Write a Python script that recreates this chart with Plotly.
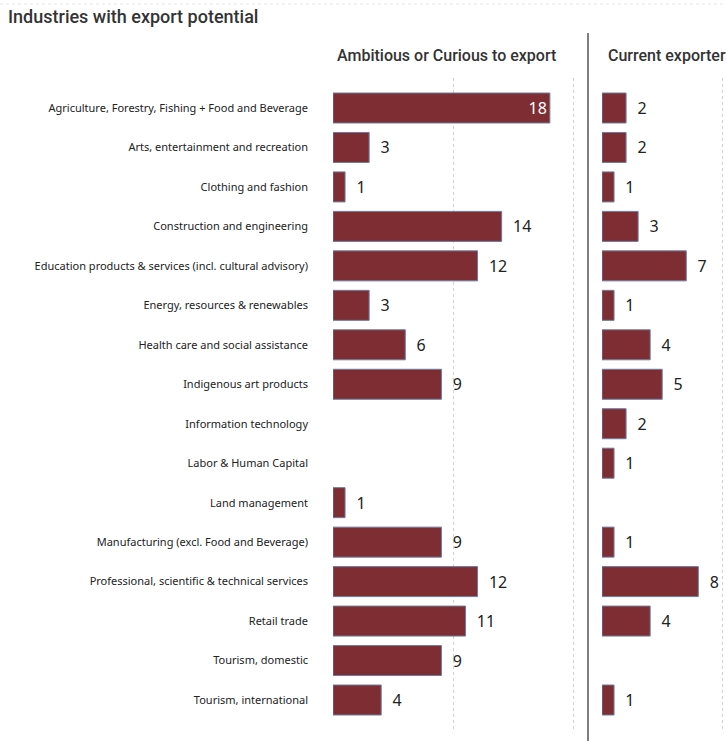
import plotly.graph_objects as go

industries = [
    "Agriculture, Forestry, Fishing + Food and Beverage",
    "Arts, entertainment and recreation",
    "Clothing and fashion",
    "Construction and engineering",
    "Education products & services (incl. cultural advisory)",
    "Energy, resources & renewables",
    "Health care and social assistance",
    "Indigenous art products",
    "Information technology",
    "Labor & Human Capital",
    "Land management",
    "Manufacturing (excl. Food and Beverage)",
    "Professional, scientific & technical services",
    "Retail trade",
    "Tourism, domestic",
    "Tourism, international",
]
ambitious = [18, 3, 1, 14, 12, 3, 6, 9, None, None, 1, 9, 12, 11, 9, 4]
current = [2, 2, 1, 3, 7, 1, 4, 5, 2, 1, None, 1, 8, 4, None, 1]

BAR = "#7E2D33"
EDGE = "#6E7C9C"
W, H = 726, 741
TOP, BOTTOM = 78, 11
PLOT_H = H - TOP - BOTTOM
INSIDE_FROM = 16  # values this large get their label inside the bar
PAD = "\u00a0\u00a0"  # breathing room between bar end and outside label


def positions(vals):
    return ["inside" if (v is not None and v >= INSIDE_FROM) else "outside" for v in vals]


def labels(vals):
    out = []
    for v in vals:
        if v is None:
            out.append("")
        elif v >= INSIDE_FROM:
            out.append(str(v))
        else:
            out.append(PAD + str(v))
    return out


def paper_y(px_from_top):
    return 1 + (TOP - px_from_top) / PLOT_H


fig = go.Figure()
fig.add_trace(go.Bar(
    y=industries, x=ambitious, orientation="h", xaxis="x", yaxis="y",
    marker=dict(color=BAR, line=dict(color=EDGE, width=1)),
    width=0.76,
    text=labels(ambitious), textposition=positions(ambitious),
    insidetextanchor="end",
    textfont=dict(family="Noto Sans", size=16, color="#222222"),
    insidetextfont=dict(family="Noto Sans", size=16, color="white"),
    outsidetextfont=dict(family="Noto Sans", size=16, color="#222222"),
    cliponaxis=False, hoverinfo="x+y", showlegend=False,
))
fig.add_trace(go.Bar(
    y=industries, x=current, orientation="h", xaxis="x2", yaxis="y2",
    marker=dict(color=BAR, line=dict(color=EDGE, width=1)),
    width=0.76,
    text=labels(current), textposition=positions(current),
    textfont=dict(family="Noto Sans", size=16, color="#222222"),
    cliponaxis=False, hoverinfo="x+y", showlegend=False,
))

grid = dict(showgrid=True, gridcolor="#D0D0D0", griddash="dot", gridwidth=1,
            zeroline=False, showticklabels=False, showline=False, ticks="",
            fixedrange=True)
yrange = [15.76, -0.76]

fig.update_layout(
    width=W, height=H,
    margin=dict(l=0, r=0, t=TOP, b=BOTTOM),
    paper_bgcolor="white", plot_bgcolor="white",
    xaxis=dict(domain=[333 / W, 586 / W], range=[0, 21], dtick=10, anchor="y", **grid),
    xaxis2=dict(domain=[602 / W, 1.0], range=[0, 10.3], dtick=10, anchor="y2", **grid),
    yaxis=dict(domain=[0, 1], range=yrange, type="category", anchor="x",
               showgrid=False, zeroline=False, showline=False, ticks="",
               ticklabelstandoff=24,
               tickfont=dict(family="Noto Sans", size=11, color="#222222"),
               fixedrange=True),
    yaxis2=dict(domain=[0, 1], range=yrange, type="category", anchor="x2",
                matches="y", showgrid=False, zeroline=False, showline=False,
                showticklabels=False, ticks="", fixedrange=True),
    font=dict(family="Noto Sans", color="#222222"),
)

# Title and panel headers
fig.add_annotation(text="Industries with export potential", xref="paper", yref="paper",
                   x=6 / W, xanchor="left", y=paper_y(17), yanchor="middle",
                   showarrow=False,
                   font=dict(family="Roboto", size=18, color="#333333", weight=500))
fig.add_annotation(text="Ambitious or Curious to export", xref="paper", yref="paper",
                   x=447 / W, xanchor="center", y=paper_y(56), yanchor="middle",
                   showarrow=False,
                   font=dict(family="Roboto", size=16, color="#333333", weight=500))
fig.add_annotation(text="Current exporters", xref="paper", yref="paper",
                   x=606 / W, xanchor="left", y=paper_y(56), yanchor="middle",
                   showarrow=False,
                   font=dict(family="Roboto", size=16, color="#333333", weight=500))

# Divider between the two panels
fig.add_shape(type="line", xref="paper", yref="paper",
              x0=588 / W, x1=588 / W, y0=paper_y(33), y1=paper_y(H),
              line=dict(color="#555555", width=1.5))
# Faint dotted rule along the top edge
fig.add_shape(type="line", xref="paper", yref="paper",
              x0=0, x1=1, y0=paper_y(4), y1=paper_y(4),
              line=dict(color="#E6E6E6", width=1, dash="dot"))

fig.write_html("out.html", config={"displayModeBar": False})
